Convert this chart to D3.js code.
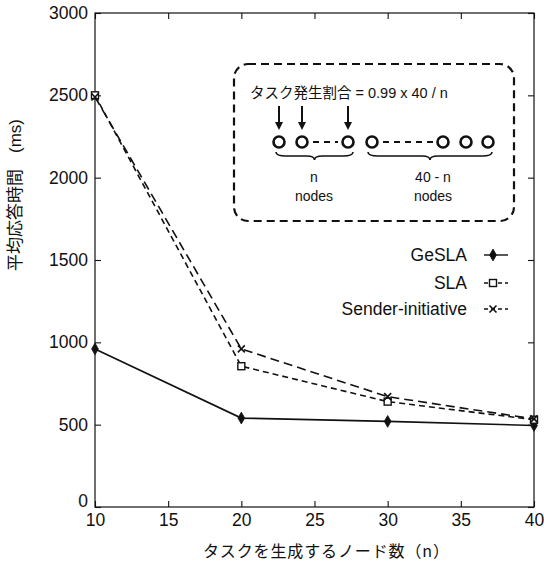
<!DOCTYPE html>
<html><head><meta charset="utf-8">
<script src="https://cdn.jsdelivr.net/npm/d3@7"></script>
<style>
html,body{margin:0;padding:0;background:#fff;}
svg{display:block;}
text{fill:#111;}
</style></head>
<body>
<svg id="c" width="544" height="567"></svg>
<script>
const nValues = [10, 20, 30, 40];
const gesla = [960, 540, 520, 495];
const sla = [2500, 855, 640, 530];
const sender = [2490, 960, 670, 535];
const xTicks = [10, 15, 20, 25, 30, 35, 40];
const yTicks = [0, 500, 1000, 1500, 2000, 2500, 3000];
const seriesNames = ["GeSLA", "SLA", "Sender-initiative"];
const yLabelMain = "平均応答時間";
const yLabelUnit = "(ms)";
const xLabel = "タスクを生成するノード数（n）";
const insetFormulaJa = "タスク発生割合";
const insetFormulaEq = " = 0.99 x 40 / n";
const insetLabels = [["n", "nodes"], ["40 - n", "nodes"]];

const svg = d3.select("#c");
const L = 95, R = 534, T = 13, B = 507;
const x = d3.scaleLinear().domain([10, 40]).range([L, R]);
const y = d3.scaleLinear().domain([0, 3000]).range([B, T]);
const latin = "'Liberation Sans', Arial, sans-serif";
const cjk = "'Noto Sans CJK JP', sans-serif";
const fmt = d3.format("d");

// frame
svg.append("rect").attr("x", L).attr("y", T).attr("width", R - L).attr("height", B - T)
  .attr("fill", "none").attr("stroke", "#111").attr("stroke-width", 1.2);

// axes with inward ticks
const xa = svg.append("g").attr("transform", `translate(0,${B})`)
  .call(d3.axisBottom(x).tickValues(xTicks).tickSizeInner(-6).tickSizeOuter(0).tickFormat(fmt));
const xt = svg.append("g").attr("transform", `translate(0,${T})`)
  .call(d3.axisTop(x).tickValues(xTicks).tickSizeInner(-6).tickSizeOuter(0).tickFormat(""));
const ya = svg.append("g").attr("transform", `translate(${L},0)`)
  .call(d3.axisLeft(y).tickValues(yTicks).tickSizeInner(-6).tickSizeOuter(0).tickFormat(fmt));
const yr = svg.append("g").attr("transform", `translate(${R},0)`)
  .call(d3.axisRight(y).tickValues(yTicks).tickSizeInner(-6).tickSizeOuter(0).tickFormat(""));
[xa, xt, ya, yr].forEach(g => {
  g.select(".domain").remove();
  g.selectAll(".tick line").attr("stroke", "#111").attr("stroke-width", 1.1);
  g.selectAll("text").attr("font-family", latin).attr("font-size", 17.5).attr("fill", "#111");
});
ya.selectAll(".tick text").attr("x", -7);
ya.selectAll(".tick").filter(d => d === 0).select("text").attr("dy", "-0.05em");
xa.selectAll(".tick text").attr("dy", "0.55em").attr("y", 9);

// axis labels
const yl = svg.append("text").attr("transform", `translate(21,195) rotate(-90)`)
  .attr("text-anchor", "middle").attr("font-size", 17);
yl.append("tspan").attr("font-family", cjk).text(yLabelMain);
yl.append("tspan").attr("font-family", latin).attr("dx", 16).text(yLabelUnit);
svg.append("text").attr("x", 326).attr("y", 557).attr("text-anchor", "middle")
  .attr("font-family", cjk).attr("font-size", 16)
  .attr("textLength", 246).attr("lengthAdjust", "spacing").text(xLabel);

// series
const series = [
  {name: seriesNames[0], vals: gesla, dash: null, marker: "diamond"},
  {name: seriesNames[1], vals: sla, dash: "6,4", marker: "square"},
  {name: seriesNames[2], vals: sender, dash: "9,5", marker: "cross"}
];
const line = d3.line().x(d => x(d[0])).y(d => y(d[1]));
function drawMarker(g, type, cx, cy) {
  if (type === "diamond") {
    g.append("path").attr("d", d3.symbol(d3.symbolDiamond, 40)()).attr("transform", `translate(${cx},${cy})`)
      .attr("fill", "#111").attr("stroke", "#111").attr("stroke-width", 0.8);
  } else if (type === "square") {
    g.append("rect").attr("x", cx - 3.5).attr("y", cy - 3.5).attr("width", 7).attr("height", 7)
      .attr("fill", "#fff").attr("stroke", "#111").attr("stroke-width", 1.4);
  } else {
    g.append("path").attr("d", `M${cx-3.5},${cy-3.5}L${cx+3.5},${cy+3.5}M${cx-3.5},${cy+3.5}L${cx+3.5},${cy-3.5}`)
      .attr("stroke", "#111").attr("stroke-width", 1.6).attr("fill", "none");
  }
}
series.forEach(s => {
  const pts = nValues.map((n, i) => [n, s.vals[i]]);
  svg.append("path").datum(pts).attr("d", line).attr("fill", "none")
    .attr("stroke", "#111").attr("stroke-width", 1.6)
    .attr("stroke-dasharray", s.dash);
  const mg = svg.append("g");
  pts.forEach(p => drawMarker(mg, s.marker, x(p[0]), y(p[1])));
});

// legend
const legY = [255, 283, 309];
series.forEach((s, i) => {
  svg.append("text").attr("x", 467).attr("y", legY[i]).attr("dy", "0.35em")
    .attr("text-anchor", "end").attr("font-family", latin).attr("font-size", 17.5).text(s.name);
  svg.append("line").attr("x1", 484).attr("x2", 508).attr("y1", legY[i]).attr("y2", legY[i])
    .attr("stroke", "#111").attr("stroke-width", 1.4).attr("stroke-dasharray", s.dash ? "4,3" : null);
  drawMarker(svg, s.marker, 493, legY[i]);
});

// inset diagram
const ins = svg.append("g");
ins.append("rect").attr("x", 234).attr("y", 64).attr("width", 280).attr("height", 157)
  .attr("rx", 14).attr("ry", 14).attr("fill", "none").attr("stroke", "#111")
  .attr("stroke-width", 2.2).attr("stroke-dasharray", "8,5");
const ft = ins.append("text").attr("x", 250).attr("y", 98).attr("font-size", 14.5);
ft.append("tspan").attr("font-family", cjk).text(insetFormulaJa);
ft.append("tspan").attr("font-family", latin).text(insetFormulaEq);
const circleX = [279, 302, 348, 372, 443, 466, 488];
const arrowX = [279, 302, 348];
arrowX.forEach(ax => {
  ins.append("line").attr("x1", ax).attr("x2", ax).attr("y1", 106).attr("y2", 124)
    .attr("stroke", "#111").attr("stroke-width", 2);
  ins.append("path").attr("d", `M${ax-4},${122}L${ax+4},${122}L${ax},${130}Z`).attr("fill", "#111");
});
circleX.forEach(cx => {
  ins.append("circle").attr("cx", cx).attr("cy", 142).attr("r", 5.5)
    .attr("fill", "none").attr("stroke", "#111").attr("stroke-width", 2.6);
});
ins.append("line").attr("x1", 313).attr("x2", 338).attr("y1", 142).attr("y2", 142)
  .attr("stroke", "#111").attr("stroke-width", 2).attr("stroke-dasharray", "6,5");
ins.append("line").attr("x1", 383).attr("x2", 434).attr("y1", 142).attr("y2", 142)
  .attr("stroke", "#111").attr("stroke-width", 2).attr("stroke-dasharray", "6,5");
function brace(x1, x2, yTop) {
  const m = (x1 + x2) / 2, d = 8;
  return `M${x1},${yTop}Q${x1},${yTop+d/2} ${x1+10},${yTop+d/2}L${m-8},${yTop+d/2}Q${m},${yTop+d/2} ${m},${yTop+d}`
    + `M${x2},${yTop}Q${x2},${yTop+d/2} ${x2-10},${yTop+d/2}L${m+8},${yTop+d/2}Q${m},${yTop+d/2} ${m},${yTop+d}`;
}
ins.append("path").attr("d", brace(276, 353, 152)).attr("fill", "none").attr("stroke", "#111").attr("stroke-width", 1.6);
ins.append("path").attr("d", brace(368, 492, 152)).attr("fill", "none").attr("stroke", "#111").attr("stroke-width", 1.6);
const labX = [314, 433];
insetLabels.forEach((lab, i) => {
  lab.forEach((t, j) => {
    ins.append("text").attr("x", labX[i]).attr("y", 182 + j * 19).attr("text-anchor", "middle")
      .attr("font-family", latin).attr("font-size", 14).text(t);
  });
});
</script>
</body></html>
